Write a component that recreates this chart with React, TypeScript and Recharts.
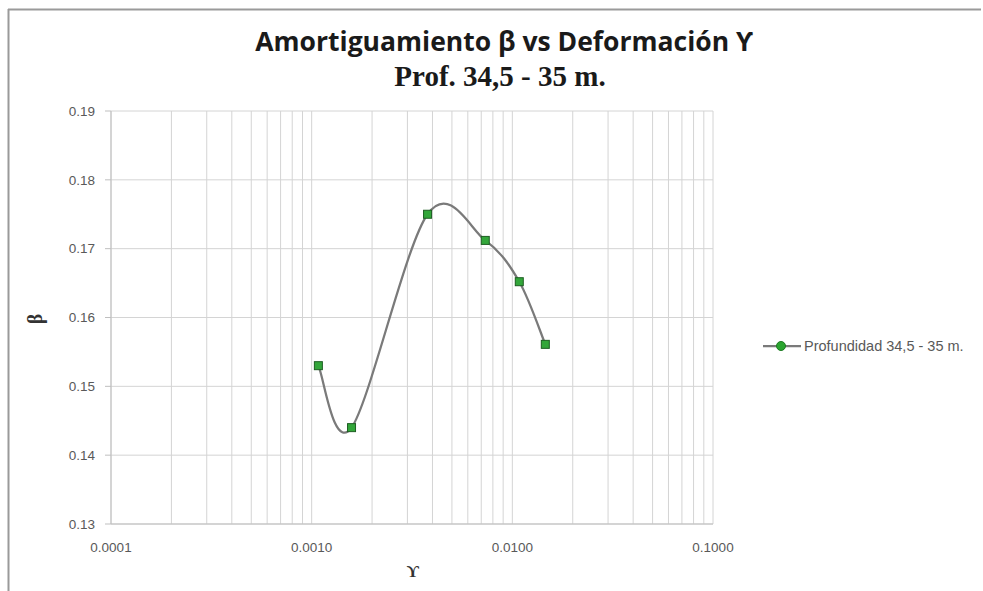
import React from 'react';
import { LineChart, Line, XAxis, YAxis, CartesianGrid } from 'recharts';

// Data
const strainValues = [0.00108, 0.00158, 0.00378, 0.00733, 0.01083, 0.0146];
const dampingValues = [0.153, 0.144, 0.175, 0.1712, 0.1652, 0.1561];
const seriesName = 'Profundidad 34,5 - 35 m.';
const decades = [0.0001, 0.001, 0.01];
const multipliers = [1, 2, 3, 4, 5, 6, 7, 8, 9];
const yTicks = [0.13, 0.14, 0.15, 0.16, 0.17, 0.18, 0.19];
const titleLine1 = 'Amortiguamiento β vs Deformación ϒ';
const titleLine2 = 'Prof. 34,5 - 35 m.';
const xTitle = 'ϒ';
const yTitle = 'β';

const xTicks: number[] = [];
decades.forEach((d) => multipliers.forEach((m) => xTicks.push(parseFloat((d * m).toPrecision(6)))));
xTicks.push(0.1);
const majorTicks = [0.0001, 0.001, 0.01, 0.1];

const data = strainValues.map((x, i) => ({ x, y: dampingValues[i] }));

// Excel-like smoothing (Catmull-Rom bezier) curve factory
function excelCurve(context: any) {
  let pts: number[][] = [];
  return {
    areaStart() {},
    areaEnd() {},
    lineStart() {
      pts = [];
    },
    lineEnd() {
      if (!pts.length) return;
      context.moveTo(pts[0][0], pts[0][1]);
      const t = 1 / 6;
      for (let i = 0; i < pts.length - 1; i++) {
        const p0 = pts[i - 1] || pts[i];
        const p1 = pts[i];
        const p2 = pts[i + 1];
        const p3 = pts[i + 2] || p2;
        context.bezierCurveTo(
          p1[0] + (p2[0] - p0[0]) * t,
          p1[1] + (p2[1] - p0[1]) * t,
          p2[0] - (p3[0] - p1[0]) * t,
          p2[1] - (p3[1] - p1[1]) * t,
          p2[0],
          p2[1]
        );
      }
    },
    point(x: number, y: number) {
      pts.push([+x, +y]);
    },
  };
}

const SquareDot = (props: any) => {
  const { cx, cy, index } = props;
  if (cx == null || cy == null) return <g key={`d-${index}`} />;
  return (
    <rect
      key={`d-${index}`}
      x={cx - 4}
      y={cy - 4}
      width={8}
      height={8}
      fill="#33a63a"
      stroke="#1d5e22"
      strokeWidth={1}
    />
  );
};

const tickStyle = { fontFamily: 'Liberation Sans, Arial, sans-serif', fontSize: 13.5, fill: '#595959' };

export default function App() {
  return (
    <div style={{ position: 'absolute', left: 0, top: 0, width: 983, height: 591, background: '#fff' }}>
      <LineChart
        width={983}
        height={591}
        data={data}
        margin={{ top: 111, right: 270, bottom: 0, left: 0 }}
      >
        <CartesianGrid stroke="#d4d4d4" strokeWidth={1} />
        <XAxis
          dataKey="x"
          type="number"
          scale="log"
          domain={[0.0001, 0.1]}
          ticks={xTicks}
          interval={0}
          allowDataOverflow
          height={67}
          axisLine={{ stroke: '#bfbfbf' }}
          tickLine={false}
          tickSize={0}
          tickMargin={18}
          tick={tickStyle}
          tickFormatter={(v: number) => (majorTicks.some((m) => Math.abs(m - v) < m * 1e-6) ? v.toFixed(4) : '')}
        />
        <YAxis
          dataKey="y"
          type="number"
          domain={[0.13, 0.19]}
          ticks={yTicks}
          interval={0}
          allowDataOverflow
          width={111}
          axisLine={{ stroke: '#bfbfbf' }}
          tickLine={{ stroke: '#bfbfbf' }}
          tickSize={6}
          tickMargin={10}
          tick={tickStyle}
          tickFormatter={(v: number) => v.toFixed(2)}
        />
        <Line
          type={excelCurve as any}
          dataKey="y"
          name={seriesName}
          stroke="#7a7a7a"
          strokeWidth={2.25}
          dot={SquareDot}
          activeDot={false}
          isAnimationActive={false}
        />
      </LineChart>
      <svg
        width={983}
        height={591}
        style={{ position: 'absolute', left: 0, top: 0, pointerEvents: 'none' }}
      >
        <line x1={8.5} y1={9} x2={8.5} y2={591} stroke="#9a9a9a" strokeWidth={2} />
        <line x1={8} y1={9.5} x2={981} y2={9.5} stroke="#9a9a9a" strokeWidth={2} />
        <text
          x={504}
          y={51}
          textAnchor="middle"
          fontFamily="Open Sans, Liberation Sans, sans-serif"
          fontWeight="bold"
          fontSize={26.5}
          fill="#1a1a1a"
        >
          {titleLine1}
        </text>
        <text
          x={500}
          y={86}
          textAnchor="middle"
          fontFamily="Liberation Serif, Times New Roman, serif"
          fontWeight="bold"
          fontSize={29}
          fill="#1a1a1a"
        >
          {titleLine2}
        </text>
        <text
          x={413}
          y={577}
          textAnchor="middle"
          fontFamily="Liberation Serif, serif"
          fontWeight="bold"
          fontSize={17}
          fill="#333"
        >
          {xTitle}
        </text>
        <text
          x={42}
          y={319}
          textAnchor="middle"
          transform="rotate(-90 42 319)"
          fontFamily="Liberation Serif, serif"
          fontWeight="bold"
          fontSize={20}
          fill="#333"
        >
          {yTitle}
        </text>
        <line x1={763} y1={346} x2={801} y2={346} stroke="#7a7a7a" strokeWidth={2.25} />
        <circle cx={781} cy={346} r={4.5} fill="#2aa52f" stroke="#1d7a22" strokeWidth={1} />
        <text
          x={804}
          y={351}
          fontFamily="Liberation Sans, Arial, sans-serif"
          fontSize={14.5}
          fill="#595959"
        >
          {seriesName}
        </text>
      </svg>
    </div>
  );
}
